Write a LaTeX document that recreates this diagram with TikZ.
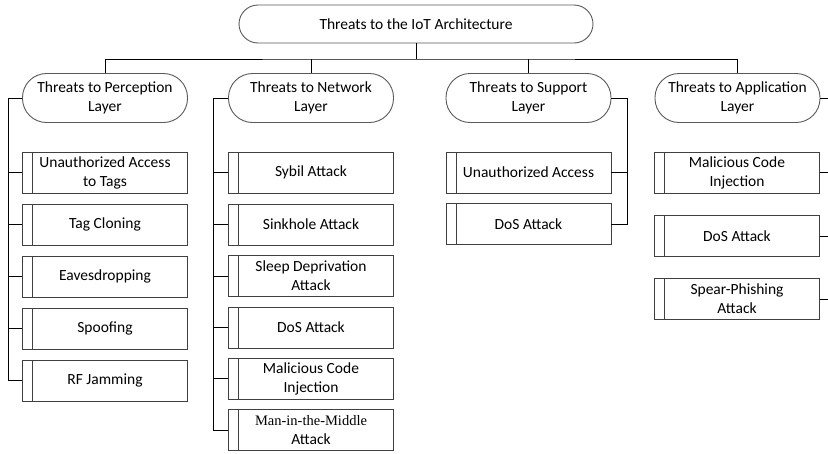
\documentclass[tikz,border=0pt]{standalone}
\usepackage{fontspec}
\setmainfont{Carlito}
\newfontfamily\serifpart{Liberation Serif}
\begin{document}
\begin{tikzpicture}[x=1pt,y=-1pt,
  every node/.style={font=\fontsize{15.5}{19}\selectfont, align=center, inner sep=0pt},
  rootnode/.style={draw=black!65, line width=0.9pt, rounded corners=19pt,
    minimum width=354pt, minimum height=38pt},
  layernode/.style={draw=black!65, line width=0.9pt, rounded corners=24pt,
    minimum width=165pt, minimum height=49pt},
  threatbox/.style={draw=black!75, line width=0.9pt, minimum width=165pt, minimum height=41pt,
    path picture={\draw[black!75, line width=0.9pt]
      ([xshift=10pt]path picture bounding box.north west) --
      ([xshift=10pt]path picture bounding box.south west);}},
  link/.style={draw=black, line width=1pt}
]
\useasboundingbox (0,0) rectangle (828,453);

% root and layers
\node[rootnode] (root) at (416,24) {Threats to the IoT Architecture};
\node[layernode] (per) at (105,98) {Threats to Perception\\Layer};
\node[layernode] (net) at (311,98) {Threats to Network\\Layer};
\node[layernode] (sup) at (528.5,98) {Threats to Support\\Layer};
\node[layernode] (app) at (737.5,98) {Threats to Application\\Layer};

% perception layer threats
\node[threatbox] (p1) at (105,172.5) {Unauthorized Access\\to Tags};
\node[threatbox] (p2) at (105,224.5) {Tag Cloning};
\node[threatbox] (p3) at (105,276.5) {Eavesdropping};
\node[threatbox] (p4) at (105,328.5) {Spoofing};
\node[threatbox] (p5) at (105,380.5) {RF Jamming};

% network layer threats
\node[threatbox] (n1) at (311,172.5) {Sybil Attack};
\node[threatbox] (n2) at (311,224.5) {Sinkhole Attack};
\node[threatbox] (n3) at (311,276) {Sleep Deprivation\\Attack};
\node[threatbox] (n4) at (311,327.5) {DoS Attack};
\node[threatbox] (n5) at (311,378.5) {Malicious Code\\Injection};
\node[threatbox] (n6) at (311,430) {{\serifpart\fontsize{14.5}{19}\selectfont Man-in-the-Middle}\\Attack};

% support layer threats
\node[threatbox] (s1) at (528.5,172.5) {Unauthorized Access};
\node[threatbox] (s2) at (528.5,224) {DoS Attack};

% application layer threats
\node[threatbox] (a1) at (737,172.5) {Malicious Code\\Injection};
\node[threatbox] (a2) at (737,236) {DoS Attack};
\node[threatbox] (a3) at (737,299) {Spear-Phishing\\Attack};

% bus below the root
\coordinate (hub) at (416,59);
\draw[link] (root.south) -- (hub);
\draw[link] (per.north) |- (hub) -| (app.north);
\draw[link] (net.north) -- (net.north|-hub);
\draw[link] (sup.north) -- (sup.north|-hub);

% spines
\coordinate (ps) at (8,0);
\coordinate (ns) at (213,0);
\coordinate (ss) at (627,0);
\coordinate (as) at (828,0);

\draw[link] (per.west) -| (ps|-p5.west) -- (p5.west);
\foreach \b in {p1,p2,p3,p4} \draw[link] (\b.west) -- (\b.west-|ps);

\draw[link] (net.west) -| (ns|-n6.west) -- (n6.west);
\foreach \b in {n1,n2,n3,n4,n5} \draw[link] (\b.west) -- (\b.west-|ns);

\draw[link] (sup.east) -| (ss|-s2.east) -- (s2.east);
\draw[link] (s1.east) -- (s1.east-|ss);

\foreach \b in {app,a1,a2,a3} \draw[link] (\b.east) -- (\b.east-|as);
\end{tikzpicture}
\end{document}
